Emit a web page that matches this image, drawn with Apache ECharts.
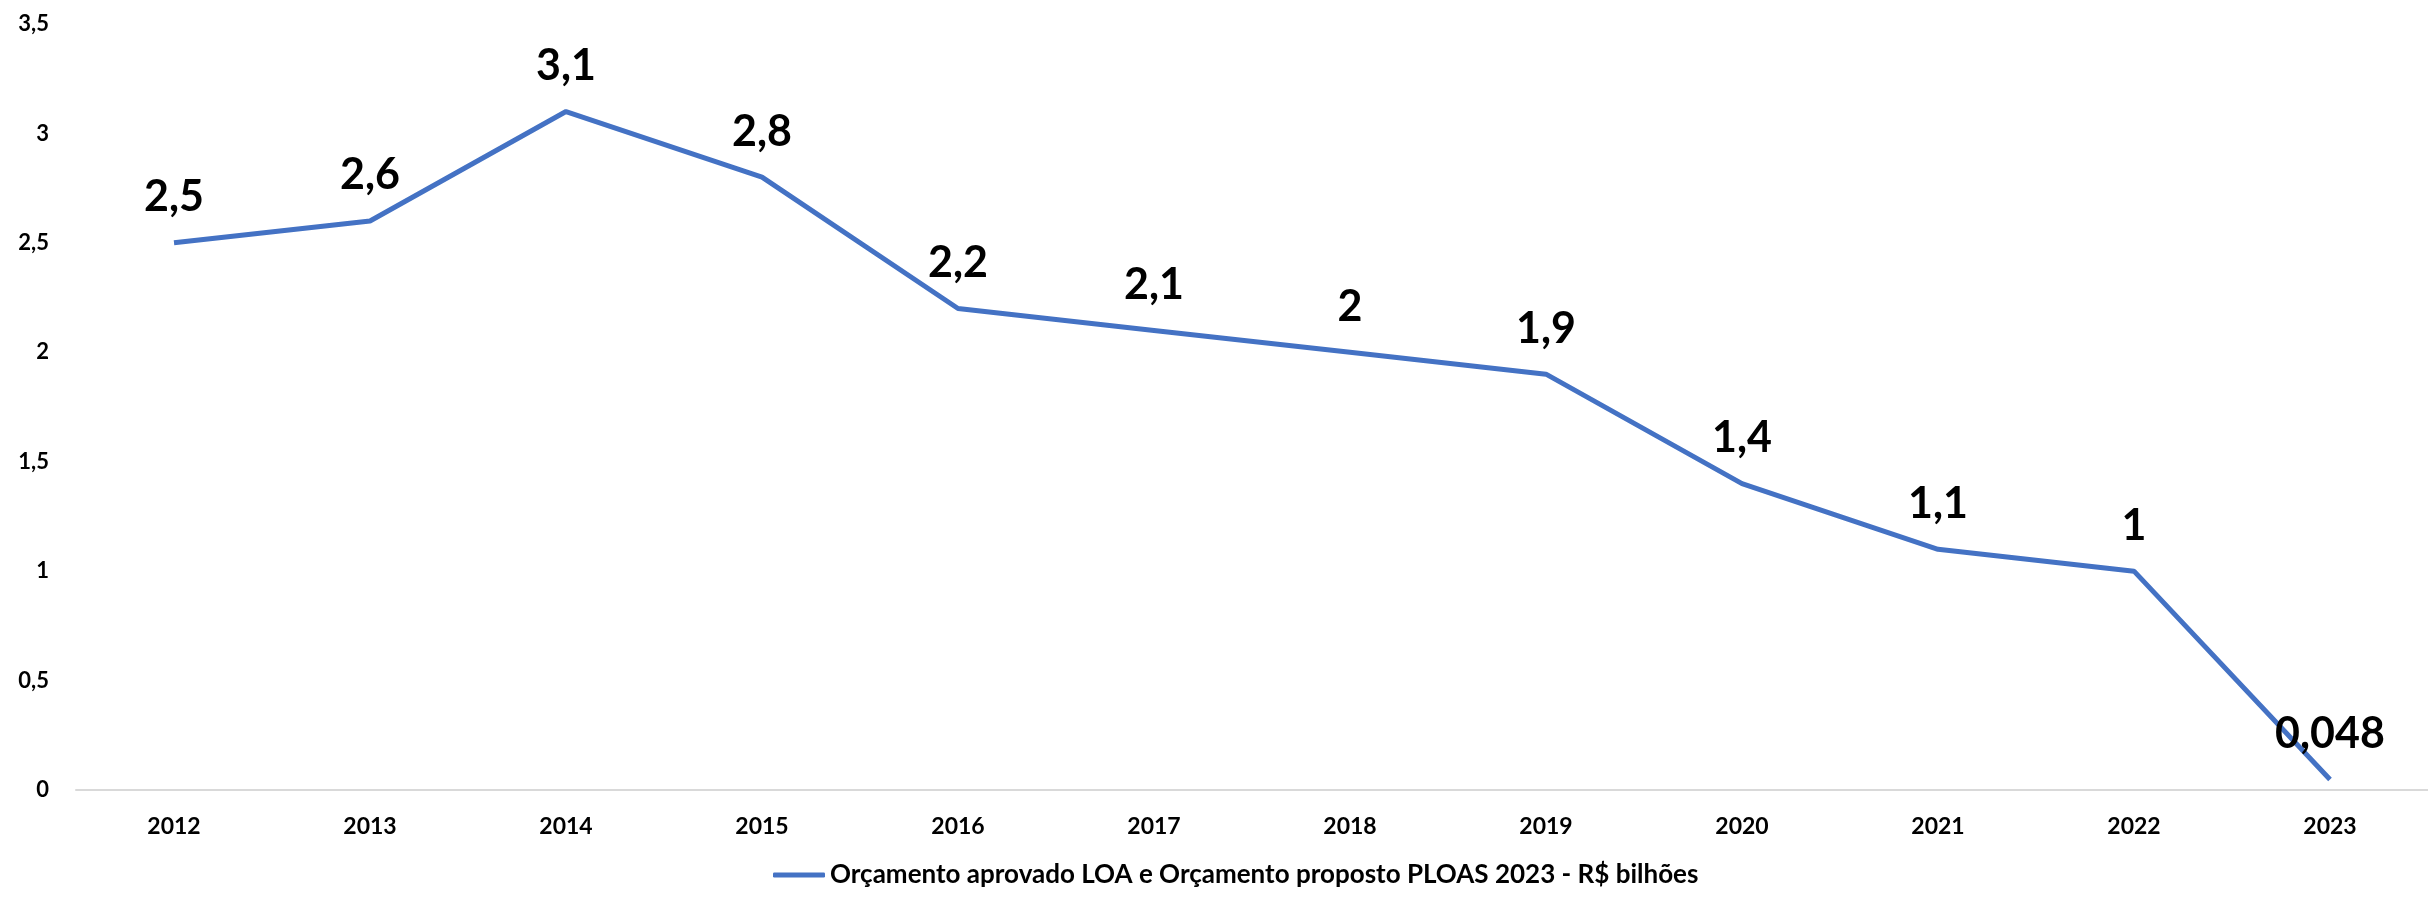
<!DOCTYPE html>
<html>
<head>
<meta charset="utf-8">
<script src="https://cdn.jsdelivr.net/npm/echarts@6/dist/echarts.min.js"></script>
<style>
  html, body { margin: 0; padding: 0; background: #fff; }
  #chart { width: 2428px; height: 897px; }
</style>
</head>
<body>
<div id="chart"></div>
<script>
// anos e valores (R$ bilhões)
const years = ['2012', '2013', '2014', '2015', '2016', '2017', '2018', '2019', '2020', '2021', '2022', '2023'];
const values = [2.5, 2.6, 3.1, 2.8, 2.2, 2.1, 2, 1.9, 1.4, 1.1, 1, 0.048];
const seriesName = 'Orçamento aprovado LOA e Orçamento proposto PLOAS 2023 - R$ bilhões';

const fmt = v => String(v).replace('.', ',');
const font = 'Lato, "Open Sans", sans-serif';

const chart = echarts.init(document.getElementById('chart'));
chart.setOption({
  animation: false,
  textStyle: { fontFamily: font },
  grid: { left: 76, right: 0, top: 24, bottom: 107, containLabel: false },
  legend: {
    bottom: 4,
    left: 768,
    itemWidth: 52,
    itemHeight: 5,
    icon: 'roundRect',
    textStyle: { fontSize: 26, fontWeight: 'bold', color: '#000', fontFamily: font },
    data: [seriesName]
  },
  xAxis: {
    type: 'category',
    data: years,
    axisLine: { lineStyle: { color: '#D9D9D9', width: 2 } },
    axisTick: { show: false },
    axisLabel: { fontSize: 23, fontWeight: 'bold', color: '#000', margin: 25, fontFamily: font }
  },
  yAxis: {
    type: 'value',
    min: 0,
    max: 3.5,
    interval: 0.5,
    axisLine: { show: false },
    axisTick: { show: false },
    splitLine: { show: false },
    axisLabel: {
      fontSize: 22, fontWeight: 'bold', color: '#000', margin: 27, fontFamily: font,
      formatter: fmt
    }
  },
  series: [{
    name: seriesName,
    type: 'line',
    data: values,
    symbol: 'circle',
    symbolSize: 0,
    showSymbol: true,
    lineStyle: { color: '#4472C4', width: 5 },
    itemStyle: { color: '#4472C4' },
    label: {
      show: true,
      position: 'top',
      distance: 24,
      fontSize: 43,
      fontWeight: 'bold',
      color: '#000',
      fontFamily: font,
      formatter: p => fmt(p.value)
    }
  }]
});
</script>
</body>
</html>
